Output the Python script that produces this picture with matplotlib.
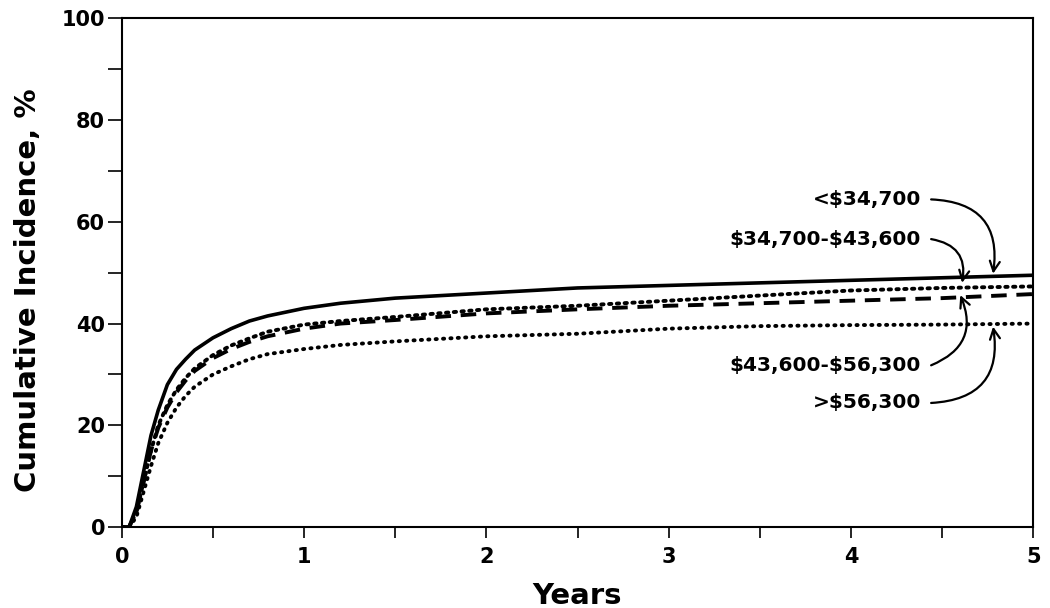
import matplotlib
matplotlib.use("Agg")
import matplotlib.pyplot as plt
from matplotlib.ticker import MultipleLocator

plt.rcParams['font.family'] = ['DejaVu Sans']
plt.rcParams['font.weight'] = 'bold'

years = [0, 0.04, 0.08, 0.12, 0.16, 0.2, 0.25, 0.3, 0.35, 0.4, 0.5, 0.6, 0.7, 0.8, 1.0, 1.2, 1.5, 2.0, 2.5, 3.0, 3.5, 4.0, 4.5, 5.0]
inc_low = [0, 0, 4, 11, 18, 23, 28, 31, 33, 34.8, 37.2, 39, 40.5, 41.5, 43, 44, 45, 46, 47, 47.5, 48, 48.5, 49, 49.5]
inc_mid_low = [0, 0, 3, 9, 15, 20, 24, 27, 29.3, 31.2, 33.8, 35.7, 37.1, 38.4, 39.8, 40.5, 41.3, 42.8, 43.5, 44.5, 45.5, 46.5, 47, 47.3]
inc_mid_high = [0, 0, 3, 9, 15, 19.5, 23.5, 26.5, 28.8, 30.7, 33.2, 35, 36.4, 37.5, 39, 40, 40.7, 42, 42.8, 43.5, 44, 44.5, 45, 45.8]
inc_high = [0, 0, 2, 7, 12, 16.5, 20.5, 23.5, 25.8, 27.6, 30, 31.6, 33, 34, 35, 35.8, 36.5, 37.5, 38, 39, 39.5, 39.7, 39.8, 40]

labels = ['<\\$34,700', '\\$34,700-\\$43,600', '\\$43,600-\\$56,300', '>\\$56,300']

fig = plt.figure(figsize=(10.5, 6.08), dpi=100)
ax = fig.add_axes([0.116, 0.133, 0.868, 0.837])

ax.plot(years, inc_low, color='black', lw=2.6, solid_capstyle='round', solid_joinstyle='round')
ax.plot(years, inc_mid_low, color='black', lw=2.8, linestyle=(0, (0.6, 1.4)), dash_capstyle='round')
ax.plot(years, inc_mid_high, color='black', lw=2.8, linestyle=(0, (4, 2.5)))
ax.plot(years, inc_high, color='black', lw=2.8, linestyle=(0, (0.3, 1.6)), dash_capstyle='round')

ax.set_xlim(0, 5)
ax.set_ylim(0, 100)
ax.xaxis.set_major_locator(MultipleLocator(1))
ax.xaxis.set_minor_locator(MultipleLocator(0.5))
ax.yaxis.set_major_locator(MultipleLocator(20))
ax.yaxis.set_minor_locator(MultipleLocator(10))
ax.tick_params(axis='both', which='both', direction='out', width=1.2, colors='black')
ax.tick_params(axis='y', which='both', length=10)
ax.tick_params(axis='x', which='both', length=8)
ax.tick_params(axis='y', which='major', labelsize=15, pad=2)
ax.tick_params(axis='x', which='major', labelsize=15, pad=6)
for lab in ax.get_xticklabels() + ax.get_yticklabels():
    lab.set_fontweight('bold')
for s in ax.spines.values():
    s.set_linewidth(1.5)

ax.set_xlabel('Years', fontsize=21, fontweight='bold', labelpad=11)
ax.set_ylabel('Cumulative Incidence, %', fontsize=21, fontweight='bold', labelpad=14)
ax.yaxis.label.set_y(0.466)

ann = [
    (labels[0], 64.4, (4.78, 49.8), -0.55),
    (labels[1], 56.6, (4.61, 48.0), -0.5),
    (labels[2], 31.8, (4.60, 45.6), 0.5),
    (labels[3], 24.4, (4.78, 39.4), 0.55),
]
for text, ty, xy, rad in ann:
    ax.text(4.385, ty, text, fontsize=14.5, fontweight='bold', ha='right', va='center')
    ax.annotate('', xy=xy, xytext=(4.44, ty),
                arrowprops=dict(arrowstyle='->', color='black', lw=1.6,
                                connectionstyle=f'arc3,rad={rad}',
                                shrinkA=0, shrinkB=0, mutation_scale=18))

fig.savefig('out.png', dpi=100)
